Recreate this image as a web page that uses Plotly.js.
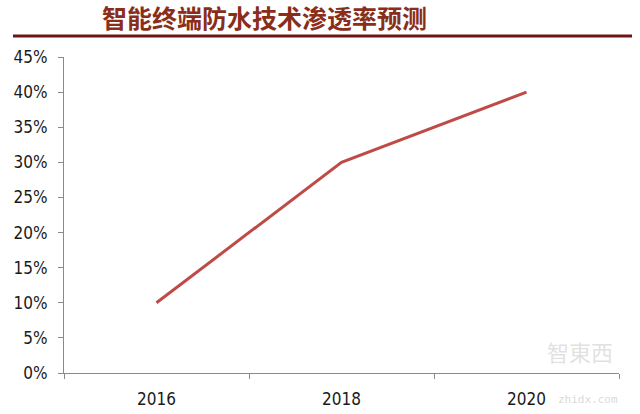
<!DOCTYPE html>
<html>
<head>
<meta charset="utf-8">
<script src="https://cdn.plot.ly/plotly-3.0.1.min.js"></script>
<style>html,body{margin:0;padding:0;background:#fff}#chart{width:640px;height:414px}</style>
</head>
<body>
<div id="chart"></div>
<script>
const years = ['2016', '2018', '2020'];
const penetration = [0.10, 0.30, 0.40];
const yTicks = [0, 0.05, 0.10, 0.15, 0.20, 0.25, 0.30, 0.35, 0.40, 0.45];
const yTickLabels = ['0%', '5%', '10%', '15%', '20%', '25%', '30%', '35%', '40%', '45%'];
const titleText = '智能终端防水技术渗透率预测';

const tickFont = {family: 'DejaVu Sans Condensed, Liberation Sans Narrow, Open Sans, sans-serif', size: 17, color: '#1a1a1a'};

const trace = {
  x: years,
  y: penetration,
  type: 'scatter',
  mode: 'lines',
  line: {color: '#BE4B48', width: 3},
  hoverinfo: 'skip'
};

const layout = {
  width: 640,
  height: 414,
  margin: {l: 64, r: 21, t: 57, b: 41},
  paper_bgcolor: '#fff',
  plot_bgcolor: '#fff',
  showlegend: false,
  xaxis: {
    type: 'category',
    range: [-0.5, 2.5],
    tickson: 'boundaries',
    ticks: 'outside',
    ticklen: 5,
    tickcolor: '#8a8a8a',
    showline: true,
    linecolor: '#8a8a8a',
    linewidth: 1,
    showgrid: false,
    zeroline: false,
    tickfont: tickFont,
    ticklabelstandoff: 11,
    fixedrange: true
  },
  yaxis: {
    range: [0, 0.45],
    tickvals: yTicks,
    ticktext: yTickLabels,
    ticks: 'outside',
    ticklen: 5,
    tickcolor: '#8a8a8a',
    showline: true,
    linecolor: '#8a8a8a',
    linewidth: 1,
    showgrid: false,
    zeroline: false,
    tickfont: tickFont,
    ticklabelstandoff: 7,
    fixedrange: true
  },
  shapes: [{
    type: 'line', xref: 'paper', yref: 'paper',
    x0: -0.0919, x1: 1.0234, y0: 1.0665, y1: 1.0665,
    line: {color: '#6E1616', width: 3}
  }],
  annotations: [
    {
      text: '<b>' + titleText + '</b>',
      xref: 'paper', yref: 'paper', x: 0.362, y: 1.126,
      xanchor: 'center', yanchor: 'middle', showarrow: false,
      font: {family: 'Noto Sans CJK SC, sans-serif', size: 25, color: '#8A2E1A'}
    },
    {
      text: '智東西',
      xref: 'paper', yref: 'paper', x: 0.93, y: 0.07,
      xanchor: 'center', yanchor: 'middle', showarrow: false,
      font: {family: 'Noto Sans CJK TC, sans-serif', size: 22, color: 'rgba(200,200,200,0.55)'}
    },
    {
      text: 'zhidx.com',
      xref: 'paper', yref: 'paper', x: 0.945, y: -0.085,
      xanchor: 'center', yanchor: 'middle', showarrow: false,
      font: {family: 'DejaVu Sans Mono, monospace', size: 11, color: 'rgba(200,200,200,0.7)'}
    }
  ]
};

Plotly.newPlot('chart', [trace], layout, {staticPlot: true, displayModeBar: false});
</script>
</body>
</html>
